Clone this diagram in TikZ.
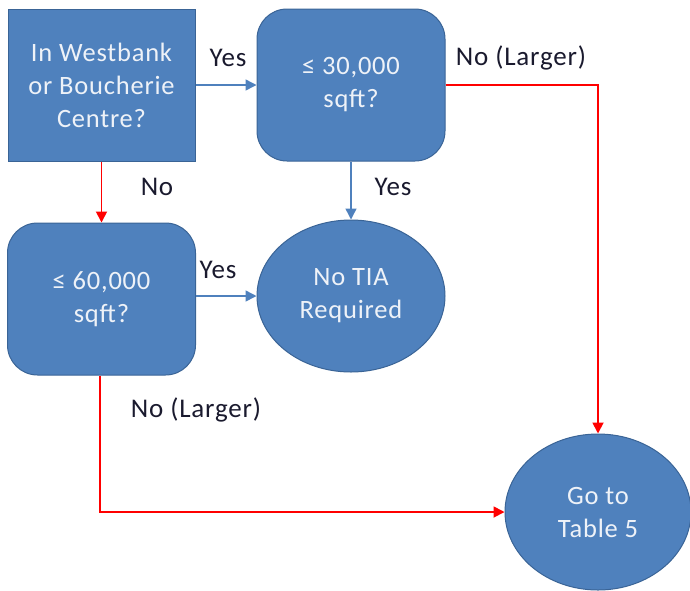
\documentclass[tikz,border=0pt]{standalone}
\usepackage{fontspec}
\setmainfont{Carlito}[LetterSpace=3]
\usetikzlibrary{arrows.meta,shapes.geometric}
\definecolor{boxfill}{HTML}{4F81BD}
\definecolor{boxline}{HTML}{3A6496}
\definecolor{boxtext}{HTML}{EEF2F8}
\definecolor{lbltext}{HTML}{1A1A2E}
\begin{document}
\begin{tikzpicture}[x=1pt,y=-1pt,
  shapebase/.style={fill=boxfill,draw=boxline,line width=1pt,text=boxtext,
    font=\fontsize{26.5}{33}\selectfont,align=center,inner sep=0pt},
  sqbox/.style={shapebase,rectangle,minimum width=187pt,minimum height=152pt},
  rbox/.style={shapebase,rectangle,rounded corners=30pt,minimum width=188pt,minimum height=152pt},
  yesline/.style={draw=boxfill,line width=1.5pt,-{Triangle[length=11pt,width=11pt]}},
  noline/.style={draw=red,line width=1.8pt,-{Triangle[length=11pt,width=11pt]}},
  lbl/.style={text=lbltext,font=\fontsize{27}{30}\selectfont}]
\useasboundingbox (0,0) rectangle (690,590);
\node[sqbox] (q1) at (101.5,85) {In Westbank\\or Boucherie\\Centre?};
\node[rbox] (q2) at (351,85) {≤ 30,000\\sqft?};
\node[rbox] (q3) at (101.5,299) {≤ 60,000\\sqft?};
\node[shapebase,ellipse,minimum width=188pt,minimum height=152pt] (notia) at (351,296) {No TIA\\Required};
\node[shapebase,ellipse,minimum width=186pt,minimum height=156pt] (t5) at (598,512) {Go to\\Table 5};
\coordinate (c1) at (598,85);
\coordinate (c2) at (100,512);
\draw[yesline] (q1.east) -- (q2.west);
\draw[noline] (q2.east) -- (c1) -- (t5.north);
\draw[noline] (q1.south) -- (q3.north);
\draw[yesline] (q2.south) -- (notia.north);
\draw[yesline] (q3.east |- notia.west) -- (notia.west);
\draw[noline] (q3.south -| c2) -- (c2) -- (t5.west);
\node[lbl] (l1) at (228,58) {Yes};
\node[lbl] (l2) at (521,58) {No (Larger)};
\node[lbl] (l3) at (157,187) {No};
\node[lbl] (l4) at (393,187) {Yes};
\node[lbl] (l5) at (218,270) {Yes};
\node[lbl] (l6) at (196,410) {No (Larger)};
\end{tikzpicture}
\end{document}
